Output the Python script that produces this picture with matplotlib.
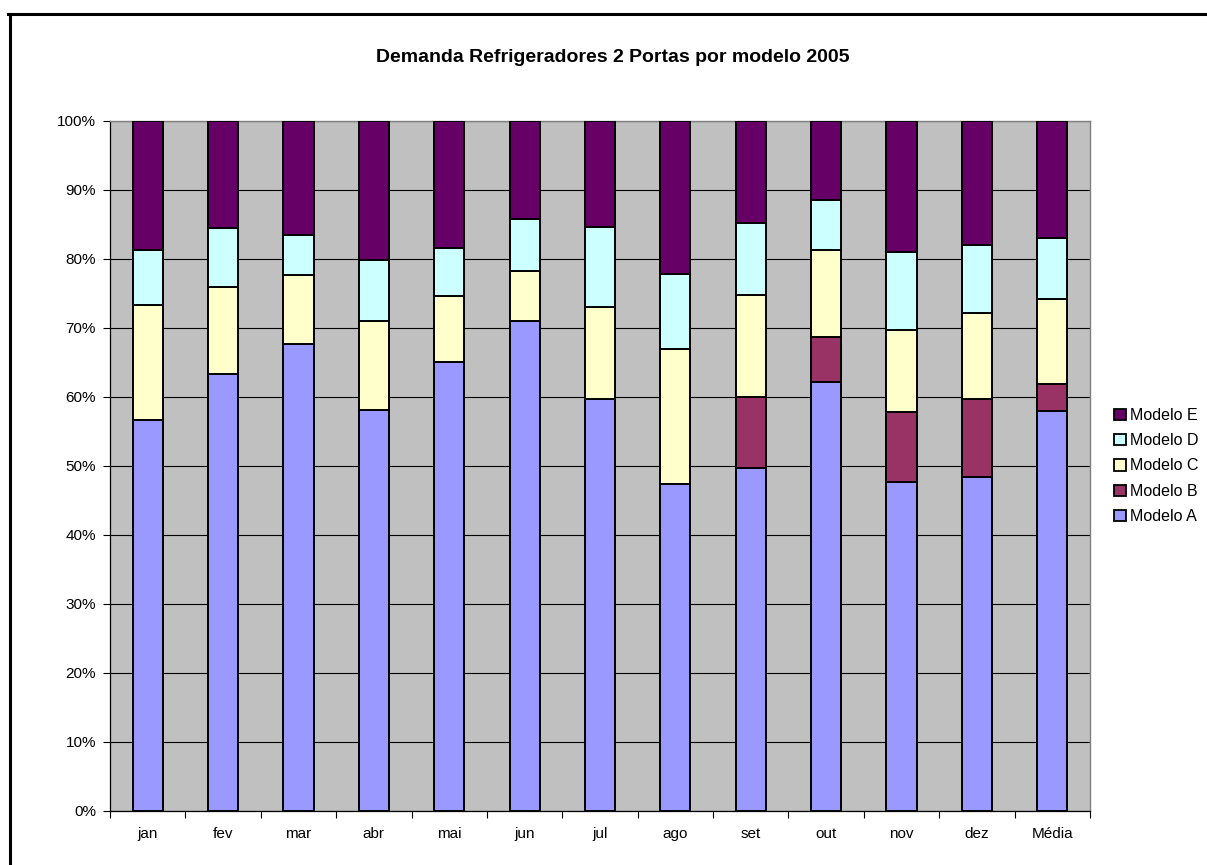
"""
Demanda Refrigeradores 2 Portas por modelo 2005 - barras empilhadas 100%
"""
import numpy as np
import matplotlib
matplotlib.use('Agg')
import matplotlib.pyplot as plt
from matplotlib.lines import Line2D
from matplotlib.patches import Patch
import matplotlib.ticker as mtick

plt.rcParams.update({
    'font.family': ['Liberation Sans', 'DejaVu Sans'],
    'font.size': 10.5,
})

meses = ['jan', 'fev', 'mar', 'abr', 'mai', 'jun', 'jul', 'ago',
         'set', 'out', 'nov', 'dez', 'Média']

# participacao (%) por modelo
modelo_a = [56.6, 63.3, 67.6, 58.1, 65.1, 70.9, 59.7, 47.3, 49.6, 62.2, 47.7, 48.4, 58.0]
modelo_b = [0.0, 0.0, 0.0, 0.0, 0.0, 0.0, 0.0, 0.0, 10.4, 6.5, 10.1, 11.3, 3.8]
modelo_c = [16.7, 12.6, 10.0, 12.8, 9.5, 7.3, 13.3, 19.6, 14.7, 12.6, 11.8, 12.5, 12.4]
modelo_d = [7.9, 8.5, 5.9, 8.9, 6.9, 7.6, 11.6, 10.9, 10.5, 7.2, 11.3, 9.8, 8.8]
modelo_e = [18.8, 15.6, 16.5, 20.2, 18.5, 14.2, 15.4, 22.2, 14.8, 11.5, 19.1, 18.0, 17.0]

series = [
    ('Modelo A', modelo_a, '#9999FF'),
    ('Modelo B', modelo_b, '#993366'),
    ('Modelo C', modelo_c, '#FFFFCC'),
    ('Modelo D', modelo_d, '#CCFFFF'),
    ('Modelo E', modelo_e, '#660066'),
]

W, H = 1207, 865
fig = plt.figure(figsize=(W / 100, H / 100), dpi=100)
fig.patch.set_facecolor('white')

ax = fig.add_axes([110 / W, 1 - 810.7 / H, 980 / W, 690 / H])
ax.set_facecolor('#C0C0C0')

x = np.arange(len(meses))
total = np.zeros(len(meses))
for nome, vals, cor in series:
    total += np.array(vals)
bottom = np.zeros(len(meses))
for nome, vals, cor in series:
    v = np.array(vals) / total * 100
    ax.bar(x, v, bottom=bottom, width=0.40, color=cor, edgecolor='black',
           linewidth=1.4, zorder=3)
    bottom += v

ax.set_xlim(-0.5, len(meses) - 0.5)
ax.set_ylim(0, 100)
ax.set_yticks(np.arange(0, 101, 10))
ax.yaxis.set_major_formatter(mtick.FuncFormatter(lambda v, _: f'{v:.0f}%'))
ax.yaxis.grid(True, color='black', linewidth=0.8, zorder=1)
ax.set_axisbelow(True)

ax.set_xticks(x)
ax.set_xticklabels(meses)
ax.set_xticks(np.arange(-0.5, len(meses)), minor=True)
ax.tick_params(axis='x', which='major', length=0, pad=12, labelsize=11)
ax.tick_params(axis='x', which='minor', length=5, width=0.8, direction='out', color='black')
ax.tick_params(axis='y', length=5, width=0.8, direction='out', pad=5, labelsize=11)

for s in ['left', 'bottom']:
    ax.spines[s].set_color('black')
    ax.spines[s].set_linewidth(0.9)
for s in ['right', 'top']:
    ax.spines[s].set_color('#808080')
    ax.spines[s].set_linewidth(1.0)

fig.text(613 / W, 1 - 57 / H, 'Demanda Refrigeradores 2 Portas por modelo 2005',
         ha='center', va='center', fontsize=14, fontweight='bold')

handles = [Patch(facecolor=cor, edgecolor='black', linewidth=1.3, label=nome)
           for nome, vals, cor in reversed(series)]
fig.legend(handles=handles, loc='center left',
           bbox_to_anchor=(1108 / W, 1 - 466 / H), frameon=False,
           fontsize=11.5, handlelength=0.7, handleheight=0.7,
           handletextpad=0.25, labelspacing=0.65, borderaxespad=0)

# moldura da area do grafico
fig.add_artist(Line2D([9.5 / W, 9.5 / W], [1 - 13.5 / H, 0], color='black',
                      linewidth=2.2, transform=fig.transFigure))
fig.add_artist(Line2D([8 / W, 1], [1 - 13.5 / H, 1 - 13.5 / H], color='black',
                      linewidth=2.2, transform=fig.transFigure))

fig.savefig('out.png', dpi=100, facecolor='white')
